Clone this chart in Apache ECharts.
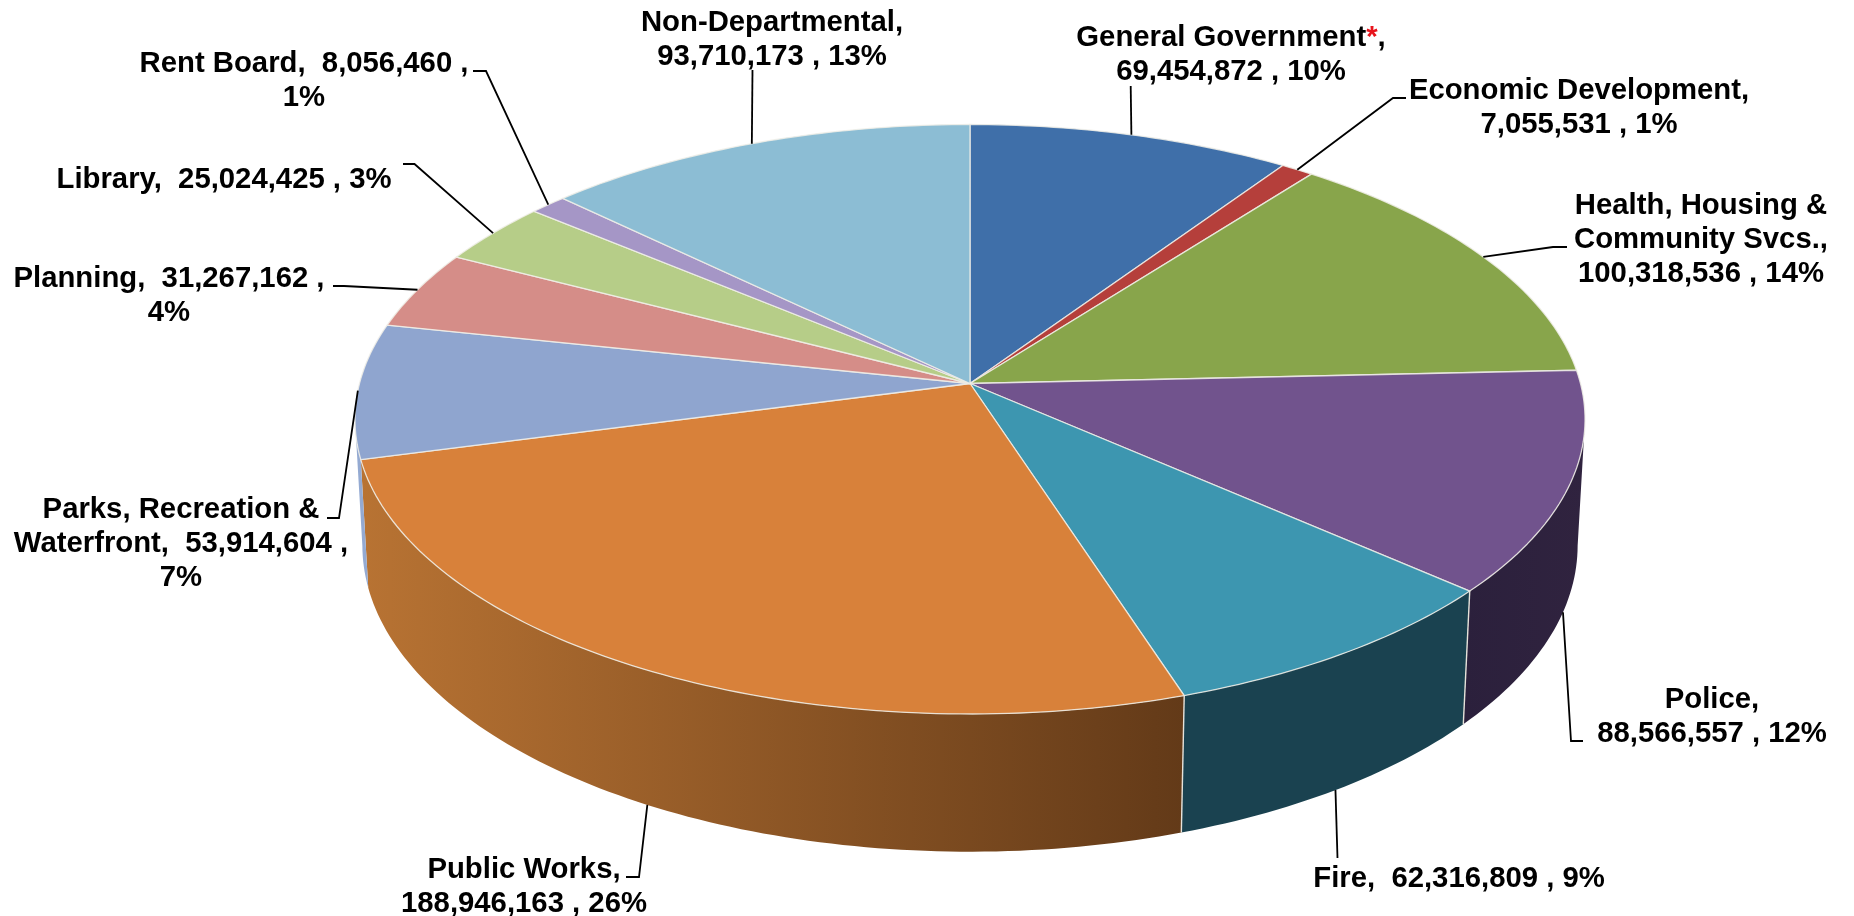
<!DOCTYPE html>
<html>
<head>
<meta charset="utf-8">
<title>General Fund by department</title>
<script src="https://cdn.jsdelivr.net/npm/echarts@6/dist/echarts.min.js"></script>
<style>
  html, body { margin: 0; padding: 0; background: #fff; }
  #chart { width: 1854px; height: 916px; }
</style>
</head>
<body>
<div id="chart"></div>
<script>
// Department budgets, clockwise from twelve o'clock.
const categories = [
  'General Government', 'Economic Development', 'Health, Housing & Community Svcs.',
  'Police', 'Fire', 'Public Works', 'Parks, Recreation & Waterfront',
  'Planning', 'Library', 'Rent Board', 'Non-Departmental'
];
const amounts = [
  69454872, 7055531, 100318536, 88566557, 62316809, 188946163,
  53914604, 31267162, 25024425, 8056460, 93710173
];
// Label wording: {v} is the amount, {p} the share, {r|*} the red footnote mark.
const labelTemplates = [
  'General Government{r|*},\n{v} , {p}',
  'Economic Development,\n{v} , {p}',
  'Health, Housing &\nCommunity Svcs.,\n{v} , {p}',
  'Police,\n{v} , {p}',
  'Fire,  {v} , {p}',
  'Public Works,\n{v} , {p}',
  'Parks, Recreation &\nWaterfront,  {v} ,\n{p}',
  'Planning,  {v} ,\n{p}',
  'Library,  {v} , {p}',
  'Rent Board,  {v} ,\n{p}',
  'Non-Departmental,\n{v} , {p}'
];
const topColors = [
  '#3f6fa9', '#b53f3b', '#88a54b', '#71538d', '#3d96b0', '#d8813a',
  '#8fa5cf', '#d58d88', '#b6cd88', '#a596c6', '#8cbdd4'
];
// Left and right shade of each slice's outer wall.
const wallShades = [
  ['#2c4d76', '#2c4d76'], ['#7e2c29', '#7e2c29'], ['#5f7334', '#5f7334'],
  ['#2b203c', '#30233f'], ['#1a4250', '#1a4250'], ['#b87333', '#633a18'],
  ['#94aad2', '#94aad2'], ['#95625f', '#95625f'], ['#7f8f5f', '#7f8f5f'],
  ['#73698a', '#73698a'], ['#628494', '#628494']
];

// Tilted-disc projection: u runs right, v towards the viewer, z is down the wall (0 top, 1 bottom).
const disc = { x: 970, y: 383.5, a: 610.5, b: 290.4, wall: 126.6, persp: 0.1213, shrink: 0.012 };

// Where each label is centred, the elbow its leader line turns at,
// and how many degrees the leader's foot sits off the slice's middle.
const labelLayout = [
  { x: 1231, y: 36,  bend: [[1130.7, 86]] },
  { x: 1579, y: 89,  bend: [[1393, 98], [1406, 98]] },
  { x: 1701, y: 204, bend: [[1553, 247], [1567, 247]] },
  { x: 1712, y: 698, bend: [[1571, 741], [1583, 741]] },
  { x: 1459, y: 877, bend: [[1337.5, 858]], lean: 0.46 },
  { x: 524,  y: 868, bend: [[639, 877], [626, 877]] },
  { x: 181,  y: 508, bend: [[339, 518], [327, 518]] },
  { x: 169,  y: 277, bend: [[344, 286], [333, 286]] },
  { x: 224,  y: 178, bend: [[414.5, 164], [403, 164]] },
  { x: 304,  y: 62,  bend: [[486, 71], [473, 71]] },
  { x: 772,  y: 21,  bend: [[752.5, 70]], lean: -0.25 }
];

const total = amounts.reduce((s, v) => s + v, 0);
const startAngles = [];
amounts.reduce((sum, v, i) => { startAngles[i] = sum / total * 360; return sum + v; }, 0);
const endAngle = i => startAngles[i] + amounts[i] / total * 360;

// The wall is only visible between the two points where the rim turns back.
const rimTurn = Math.asin(disc.persp) * 180 / Math.PI;
const wallFrom = 90 + rimTurn, wallTo = 270 - rimTurn;

function project(deg, z) {
  const t = deg * Math.PI / 180;
  const u = Math.sin(t), v = -Math.cos(t);
  const w = 1 - disc.persp * v + disc.shrink * z;
  return [disc.x + disc.a * u / w, disc.y + (disc.b * v + disc.wall * z) / w];
}
function arc(from, to, z) {
  const n = Math.max(2, Math.ceil(to - from));
  const pts = [];
  for (let k = 0; k <= n; k++) pts.push(project(from + (to - from) * k / n, z));
  return pts;
}
const apex = [disc.x, disc.y];
const bold = 'bold 29.3px "Liberation Sans", Arial, sans-serif';
const lineGap = 34;

function renderWall(params, api) {
  const i = params.dataIndex;
  const from = Math.max(startAngles[i], wallFrom), to = Math.min(endAngle(i), wallTo);
  if (to <= from) return { type: 'group', children: [] };
  const top = arc(from, to, 0), bottom = arc(from, to, 1).reverse();
  const all = top.concat(bottom);
  const xs = all.map(p => p[0]);
  const children = [{
    type: 'polygon',
    shape: { points: all },
    style: {
      fill: new echarts.graphic.LinearGradient(
        Math.min(...xs), 0, Math.max(...xs), 0,
        [{ offset: 0, color: wallShades[i][0] }, { offset: 1, color: wallShades[i][1] }],
        true
      )
    }
  }];
  if (from > wallFrom && from < 250) {
    children.push({
      type: 'polyline',
      shape: { points: [project(from, 0), project(from, 1)] },
      style: { stroke: '#e6e2da', lineWidth: 1.4, fill: null }
    });
  }
  return { type: 'group', children };
}

function renderTop(params, api) {
  const i = params.dataIndex;
  return {
    type: 'polygon',
    shape: { points: [apex].concat(arc(startAngles[i], endAngle(i), 0)) },
    style: { fill: topColors[i], stroke: 'rgba(240,238,232,0.85)', lineWidth: 1.3, lineJoin: 'round' }
  };
}

function renderLabel(params, api) {
  const i = params.dataIndex;
  const value = api.value(0);
  const mid = (startAngles[i] + endAngle(i)) / 2;
  const front = -Math.cos(mid * Math.PI / 180) > 0.1;
  const spot = labelLayout[i];
  const text = labelTemplates[i]
    .replace('{v}', value.toLocaleString('en-US'))
    .replace('{p}', Math.round(value / total * 100) + '%');
  return {
    type: 'group',
    children: [{
      type: 'polyline',
      shape: { points: [project(mid + (spot.lean || 0), front ? 1 : 0)].concat(spot.bend) },
      style: { stroke: '#000', lineWidth: 1.8, fill: null }
    }, {
      type: 'text',
      x: spot.x,
      y: spot.y - lineGap / 2 + 1.5,
      style: {
        text,
        font: bold,
        fill: '#000',
        align: 'center',
        verticalAlign: 'top',
        lineHeight: lineGap,
        rich: { r: { fill: '#e8141c', font: bold, lineHeight: lineGap } }
      }
    }]
  };
}

const rows = amounts.map((v, i) => ({ name: categories[i], value: v }));
const chart = echarts.init(document.getElementById('chart'), null, { renderer: 'canvas' });
chart.setOption({
  animation: false,
  backgroundColor: '#fff',
  series: [
    { type: 'custom', name: 'walls', coordinateSystem: 'none', silent: true, clip: false, z: 1, data: rows, renderItem: renderWall },
    { type: 'custom', name: 'tops', coordinateSystem: 'none', silent: true, clip: false, z: 2, data: rows, renderItem: renderTop },
    { type: 'custom', name: 'labels', coordinateSystem: 'none', silent: true, clip: false, z: 3, data: rows, renderItem: renderLabel }
  ]
});
</script>
</body>
</html>
